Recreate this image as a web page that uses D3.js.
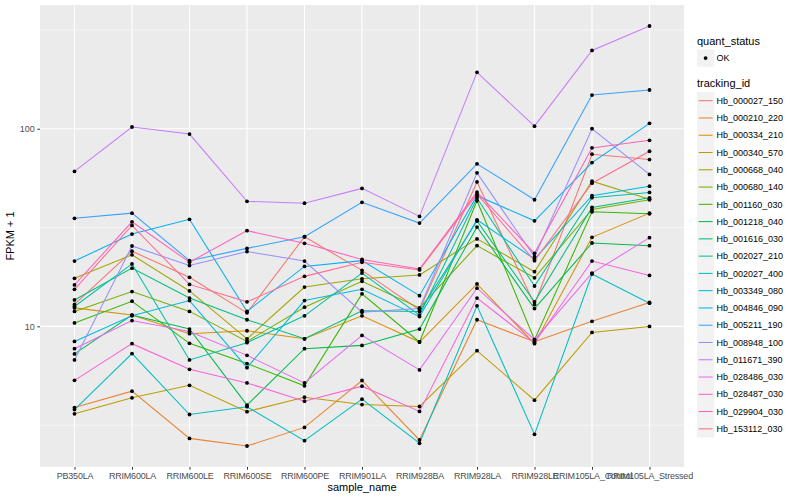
<!DOCTYPE html>
<html><head><meta charset="utf-8">
<script src="https://cdn.jsdelivr.net/npm/d3@7"></script>
<style>body{margin:0;background:#fff}svg{display:block}text{font-family:"Liberation Sans",Arial,sans-serif}</style>
</head><body>
<svg id="chart" width="800" height="500"></svg>
<script>
const categories = ["PB350LA","RRIM600LA","RRIM600LE","RRIM600SE","RRIM600PE","RRIM901LA","RRIM928BA","RRIM928LA","RRIM928LE","RRIM105LA_Control","RRIM105LA_Stressed"];
const trackingIds = ["Hb_000027_150","Hb_000210_220","Hb_000334_210","Hb_000340_570","Hb_000668_040","Hb_000680_140","Hb_001160_030","Hb_001218_040","Hb_001616_030","Hb_002027_210","Hb_002027_400","Hb_003349_080","Hb_004846_090","Hb_005211_190","Hb_008948_100","Hb_011671_390","Hb_028486_030","Hb_028487_030","Hb_029904_030","Hb_153112_030"];
const hb_000027_150 = [12.9, 24.0, 17.7, 11.7, 28.4, 19.2, 12.1, 53.8, 12.9, 74.3, 69.8];
const hb_000210_220 = [3.88, 4.70, 2.71, 2.48, 3.08, 5.32, 2.66, 10.8, 8.36, 10.6, 13.2];
const hb_000334_210 = [12.4, 11.4, 9.18, 9.50, 8.65, 11.3, 8.33, 16.4, 8.17, 28.2, 37.4];
const hb_000340_570 = [3.61, 4.35, 5.03, 3.70, 4.38, 4.02, 3.93, 7.53, 4.23, 9.31, 9.99];
const hb_000668_040 = [17.5, 23.0, 15.1, 8.65, 15.8, 17.4, 18.2, 27.7, 18.9, 54.3, 44.0];
const hb_000680_140 = [11.9, 15.0, 11.9, 8.39, 12.5, 16.9, 12.4, 25.6, 17.6, 39.0, 43.7];
const hb_001160_030 = [10.4, 13.4, 8.20, 6.48, 5.00, 14.6, 8.33, 43.2, 8.56, 38.0, 37.1];
const hb_001218_040 = [7.25, 11.4, 9.69, 3.99, 7.71, 8.01, 9.69, 31.8, 12.3, 26.4, 25.6];
const hb_001616_030 = [13.6, 19.7, 13.9, 10.8, 8.65, 12.0, 11.9, 34.1, 13.3, 40.0, 44.7];
const hb_002027_210 = [12.6, 20.7, 6.76, 8.27, 11.3, 18.6, 11.4, 44.6, 16.0, 44.8, 47.6];
const hb_002027_400 = [3.79, 7.28, 3.58, 3.92, 2.64, 4.28, 2.56, 12.7, 2.84, 18.4, 13.1];
const hb_003349_080 = [8.39, 11.3, 13.5, 6.18, 13.5, 15.4, 11.2, 34.6, 21.9, 45.8, 51.2];
const hb_004846_090 = [21.4, 29.3, 34.8, 11.9, 20.1, 21.5, 14.3, 45.8, 34.2, 67.4, 106.5];
const hb_005211_190 = [35.2, 37.4, 21.5, 24.8, 28.4, 42.4, 33.3, 66.4, 43.7, 148, 157];
const hb_008948_100 = [6.76, 25.5, 20.3, 23.9, 21.4, 11.8, 12.3, 59.8, 22.5, 100, 58.7];
const hb_011671_390 = [60.8, 102, 94.0, 42.9, 42.0, 49.9, 36.0, 193, 103, 249, 331];
const hb_028486_030 = [7.71, 10.7, 9.42, 7.13, 5.17, 9.00, 6.02, 15.6, 8.56, 18.6, 28.1];
const hb_028487_030 = [5.33, 8.17, 6.06, 5.17, 4.18, 4.98, 3.71, 13.9, 8.25, 21.4, 18.1];
const hb_029904_030 = [16.2, 33.8, 21.1, 30.5, 26.3, 21.8, 19.5, 47.8, 23.4, 80.0, 87.4];
const hb_153112_030 = [15.4, 32.4, 16.3, 13.3, 17.9, 21.1, 19.3, 46.7, 21.5, 53.0, 76.9];
const seriesValues = [hb_000027_150,hb_000210_220,hb_000334_210,hb_000340_570,hb_000668_040,hb_000680_140,hb_001160_030,hb_001218_040,hb_001616_030,hb_002027_210,hb_002027_400,hb_003349_080,hb_004846_090,hb_005211_190,hb_008948_100,hb_011671_390,hb_028486_030,hb_028487_030,hb_029904_030,hb_153112_030];
const yTicks = [10, 100];
const yMinor = [Math.sqrt(10), Math.sqrt(1000), Math.sqrt(100000)];
const colors = ["#F8766D","#EA8331","#D89000","#C09B00","#A3A500","#7CAE00","#39B600","#00BB4E","#00BF7D","#00C1A3","#00BFC4","#00BAE0","#00B0F6","#35A2FF","#9590FF","#C77CFF","#E76BF3","#FA62DB","#FF62BC","#FF6C91"];

const series = trackingIds.map((id, i) => ({id, color: colors[i], values: seriesValues[i].map((v, j) => ({cat: categories[j], v}))}));

const svg = d3.select("#chart");
const P = {l: 40, r: 684, t: 5, b: 467};
const x = d3.scalePoint().domain(categories).range([P.l, P.r]).padding(0.6);
const all = seriesValues.flat();
const lmin = Math.log10(d3.min(all)), lmax = Math.log10(d3.max(all));
const ex = (lmax - lmin) * 0.05;
const y = d3.scaleLog().domain([Math.pow(10, lmin - ex), Math.pow(10, lmax + ex)]).range([P.b, P.t]);

svg.append("rect").attr("x", P.l).attr("y", P.t).attr("width", P.r - P.l).attr("height", P.b - P.t).attr("fill", "#EBEBEB");
const g = svg.append("g");
g.selectAll(".ymin").data(yMinor).enter().append("line")
  .attr("x1", P.l).attr("x2", P.r).attr("y1", d => y(d)).attr("y2", d => y(d))
  .attr("stroke", "#fff").attr("stroke-width", 0.55);
g.selectAll(".ymaj").data(yTicks).enter().append("line")
  .attr("x1", P.l).attr("x2", P.r).attr("y1", d => y(d)).attr("y2", d => y(d))
  .attr("stroke", "#fff").attr("stroke-width", 1.1);
g.selectAll(".xmaj").data(categories).enter().append("line")
  .attr("x1", d => x(d)).attr("x2", d => x(d)).attr("y1", P.t).attr("y2", P.b)
  .attr("stroke", "#fff").attr("stroke-width", 1.1);

const line = d3.line().x(d => x(d.cat)).y(d => y(d.v));
svg.append("g").selectAll("path").data(series).enter().append("path")
  .attr("d", d => line(d.values)).attr("fill", "none").attr("stroke", d => d.color).attr("stroke-width", 1.05);
svg.append("g").selectAll("g").data(series).enter().append("g")
  .selectAll("circle").data(d => d.values).enter().append("circle")
  .attr("cx", d => x(d.cat)).attr("cy", d => y(d.v)).attr("r", 1.9).attr("fill", "#000");

// axes
const xAxis = d3.axisBottom(x).tickSize(2.7).tickPadding(2.5);
const xa = svg.append("g").attr("transform", `translate(0,${P.b})`).call(xAxis);
const yAxis = d3.axisLeft(y).tickValues(yTicks).tickFormat(d3.format("d")).tickSize(2.7).tickPadding(2.5);
const ya = svg.append("g").attr("transform", `translate(${P.l},0)`).call(yAxis);
[xa, ya].forEach(a => {
  a.select(".domain").remove();
  a.selectAll(".tick line").attr("stroke", "#333333");
  a.selectAll(".tick text").attr("fill", "#4D4D4D").style("font-size", "9px").style("font-family", "Liberation Sans, Arial, sans-serif");
});
xa.selectAll(".tick text").style("letter-spacing", "-0.2px");
svg.append("text").attr("x", (P.l + P.r) / 2).attr("y", 491).attr("text-anchor", "middle")
  .style("font-size", "11px").attr("fill", "#000").text("sample_name");
svg.append("text").attr("transform", `translate(14,${(P.t + P.b) / 2}) rotate(-90)`).attr("text-anchor", "middle")
  .style("font-size", "11px").attr("fill", "#000").text("FPKM + 1");

// legend
const L = svg.append("g");
L.append("text").attr("x", 697).attr("y", 44.5).style("font-size", "11px").text("quant_status");
L.append("rect").attr("x", 697).attr("y", 49.5).attr("width", 17.3).attr("height", 17.3).attr("fill", "#F2F2F2");
L.append("circle").attr("cx", 705.6).attr("cy", 58.1).attr("r", 1.9).attr("fill", "#000");
L.append("text").attr("x", 716.5).attr("y", 61.3).style("font-size", "9px").text("OK");
L.append("text").attr("x", 697).attr("y", 87).style("font-size", "11px").text("tracking_id");
const items = L.selectAll(".item").data(series).enter().append("g")
  .attr("transform", (d, i) => `translate(697,${92.1 + i * 17.27})`);
items.append("rect").attr("width", 17.3).attr("height", 17.3).attr("fill", "#F2F2F2");
items.append("line").attr("x1", 1.7).attr("x2", 15.6).attr("y1", 8.6).attr("y2", 8.6).attr("stroke", d => d.color).attr("stroke-width", 1.05);
items.append("text").attr("x", 19.5).attr("y", 11.8).style("font-size", "9px").text(d => d.id);
</script>
</body></html>
